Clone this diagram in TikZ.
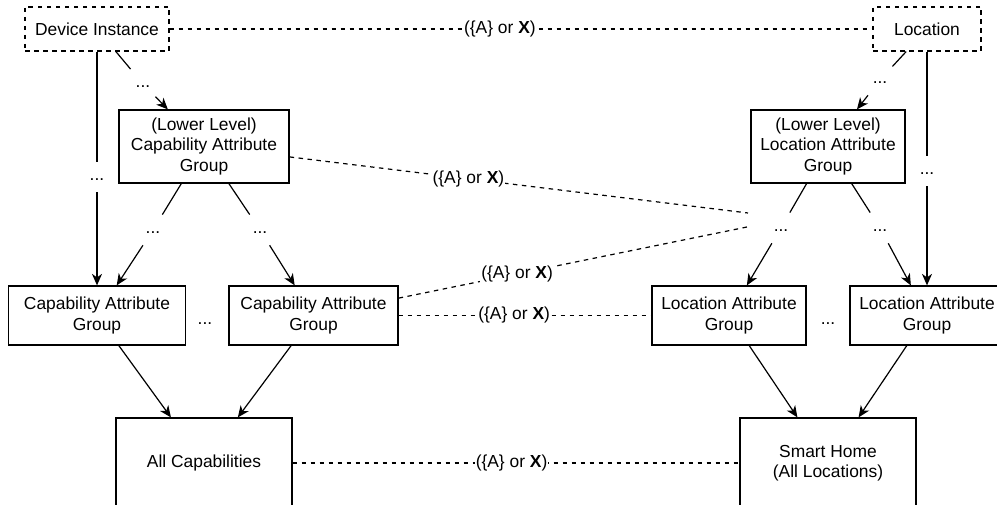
\documentclass[tikz,border=0pt]{standalone}
\usepackage{fontspec}
\setmainfont{Liberation Sans}
\usetikzlibrary{arrows.meta}
\begin{document}
\begin{tikzpicture}[x=1pt,y=-1pt,
  every node/.style={font=\fontsize{17.4}{20.3}\selectfont},
  box/.style={draw, line width=1.2pt, align=center, inner sep=0pt},
  dbox/.style={box, dash pattern=on 4.5pt off 4.5pt},
  dots/.style={inner sep=5pt, anchor=base},
  link/.style={line width=1.2pt},
  arr/.style={link, -{Stealth[length=11.5pt,width=10pt,inset=3.5pt]}},
  rel/.style={link, dash pattern=on 4.5pt off 4.5pt},
  rlabel/.style={fill=white, inner sep=1pt}
]
\useasboundingbox (0,0) rectangle (997,505);
\fill[white] (0,0) rectangle (997,505);
\clip (0,0) rectangle (997,505);

% top-level entities
\node[dbox, minimum width=144pt, minimum height=44pt] (di)  at (97,29)  {Device Instance};
\node[dbox, minimum width=108pt, minimum height=44pt] (loc) at (927,29) {Location};

% lower level groups
\node[box, minimum width=170pt, minimum height=73pt] (capL) at (204,146.5) {(Lower Level)\\Capability Attribute\\Group};
\node[box, minimum width=154pt, minimum height=73pt] (locL) at (828,146.5) {(Lower Level)\\Location Attribute\\Group};

% attribute groups
\node[box, minimum width=177pt, minimum height=59pt] (cap1) at (97,315.5)   {Capability Attribute\\Group};
\node[box, minimum width=169pt, minimum height=59pt] (cap2) at (313.5,315.5) {Capability Attribute\\Group};
\node[box, minimum width=154pt, minimum height=59pt] (lg1)  at (729,315.5)   {Location Attribute\\Group};
\node[box, minimum width=154pt, minimum height=59pt] (lg2)  at (927,315.5)   {Location Attribute\\Group};

% roots
\node[box, minimum width=176pt, minimum height=90pt] (allcap) at (204,463) {All Capabilities};
\node[box, minimum width=176pt, minimum height=90pt] (smart)  at (828,463) {Smart Home\\(All Locations)};

% ellipsis nodes on the hierarchy paths
\node[dots] (d1) at (97,181)  {\strut...};
\node[dots] (d2) at (143,88)  {\strut...};
\node[dots] (d3) at (880,84)  {\strut...};
\node[dots] (d4) at (927,175) {\strut...};
\node[dots] (dA) at (153,234) {\strut...};
\node[dots] (dB) at (260,234) {\strut...};
\node[dots] (d5) at (781,232) {\strut...};
\node[dots] (d6) at (880,232) {\strut...};
\node[anchor=base] (m1) at (205,325) {...};
\node[anchor=base] (m2) at (828,325) {...};

% free ends of the cross relations
\coordinate (e1) at (748,213);
\coordinate (e2) at (747,227);

% hierarchy: capability side
\draw[arr] (di) -- (d1) -- (cap1);
\draw[arr] (di) -- (d2) -- (capL);
\draw[arr] (capL) -- (dA) -- (cap1);
\draw[arr] (capL) -- (dB) -- (cap2);
\draw[arr] (cap1) -- (allcap);
\draw[arr] (cap2) -- (allcap);

% hierarchy: location side
\draw[arr] (loc) -- (d4) -- (lg2);
\draw[arr] (loc) -- (d3) -- (locL);
\draw[arr] (locL) -- (d5) -- (lg1);
\draw[arr] (locL) -- (d6) -- (lg2);
\draw[arr] (lg1) -- (smart);
\draw[arr] (lg2) -- (smart);

% relations between the two hierarchies
\draw[rel] (di) -- node[rlabel, pos=0.47] {(\{A\} or \textbf{X})} (loc);
\draw[rel] (capL) -- node[rlabel, pos=0.39] {(\{A\} or \textbf{X})} (e1);
\draw[rel] (cap2) -- node[rlabel, pos=0.34] {(\{A\} or \textbf{X})} (e2);
\draw[rel] (cap2) -- node[rlabel, pos=0.457] {(\{A\} or \textbf{X})} (lg1);
\draw[rel] (allcap) -- node[rlabel, pos=0.49] {(\{A\} or \textbf{X})} (smart);
\end{tikzpicture}
\end{document}
